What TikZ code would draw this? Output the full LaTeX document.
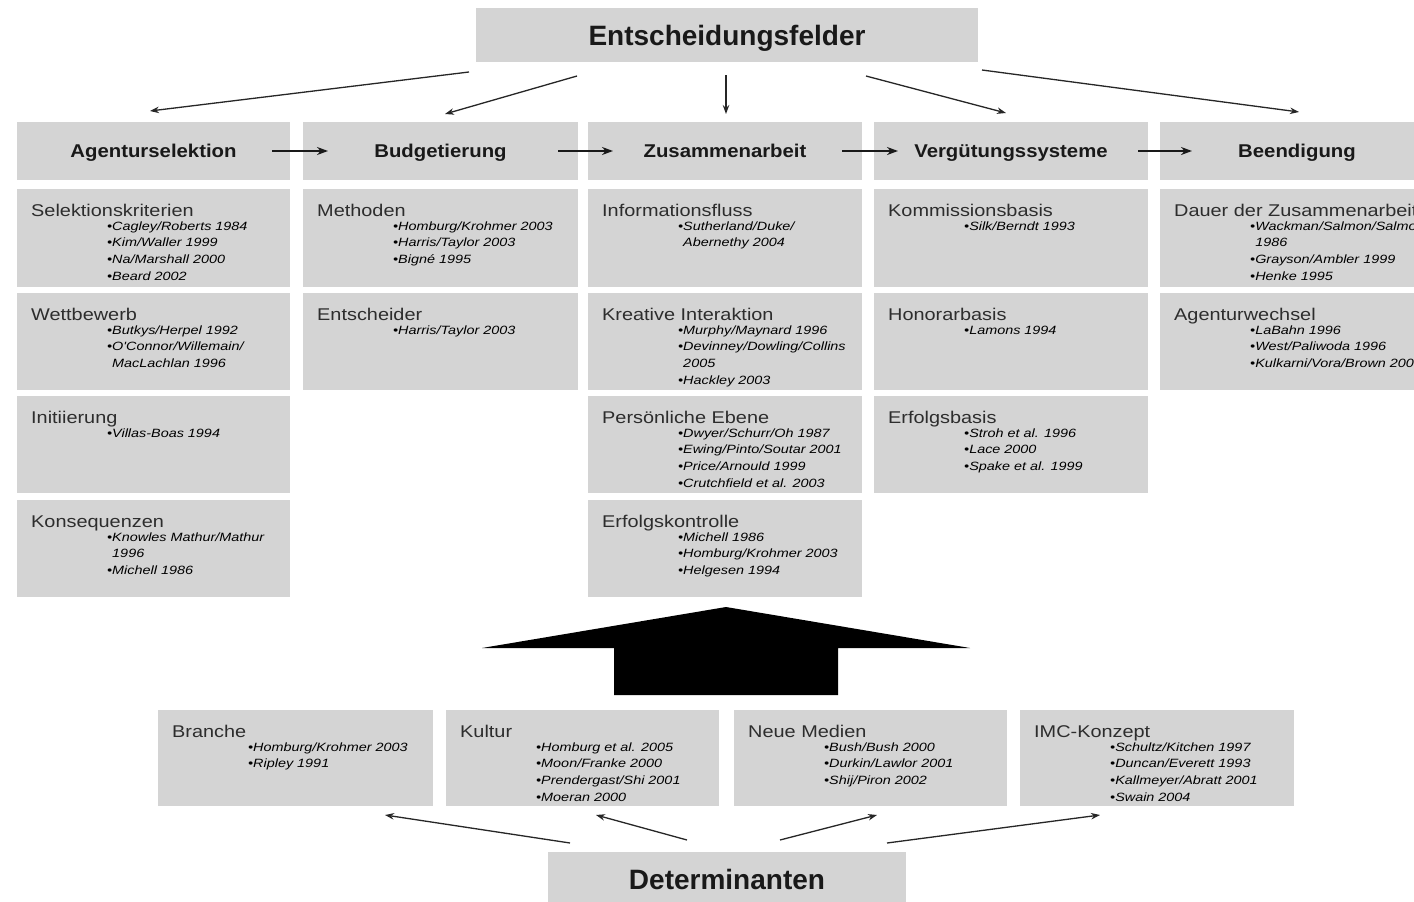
\documentclass[tikz,border=0pt]{standalone}
\usepackage{fontspec}
\setmainfont{Liberation Sans}
\newfontfamily\tfont[FakeStretch=1.17]{Liberation Sans}
\newfontfamily\cfont[FakeStretch=1.2]{Liberation Sans}
\newfontfamily\hfont[FakeStretch=1.1]{Liberation Sans}
\usetikzlibrary{arrows.meta,calc}
\definecolor{boxgray}{RGB}{212,212,212}
\definecolor{txtgray}{RGB}{45,45,45}
\newcommand\bl{•}
\newcommand\nb{\phantom{•}}
\tikzset{
 fbox/.style={fill=boxgray, draw=none, inner sep=0pt, outer sep=0pt, anchor=north west},
 hdr/.style={fbox, font=\hfont\bfseries\fontsize{18.5}{20}\selectfont, text=black!90, text height=13pt, text depth=0pt},
 big/.style={fbox, font=\bfseries\fontsize{28}{30}\selectfont, text=black!90, text height=20pt, text depth=0pt},
 ttl/.style={font=\tfont\fontsize{17}{19}\selectfont, text=txtgray, inner sep=0pt, anchor=base west},
 cit/.style={font=\cfont\itshape\fontsize{12}{14}\selectfont, text=black, inner sep=0pt, anchor=base west},
 tarr/.style={-{Stealth[length=9pt,width=6.5pt]}, line width=1.3pt, draw=black!85},
 harr/.style={-{Stealth[length=11pt,width=8pt]}, line width=2.2pt, draw=black!90},
}
\newcommand\fld[7]{%
 \node[fbox, minimum width=#4pt, minimum height=#5pt] (#1) at (#2,#3) {};
 \node[ttl] (#1-t) at ($(#1.north west)+(14,27)$) {#6};
 \foreach \ct [count=\i from 0] in {#7} {\node[cit] (#1-c\i) at ($(#1.north west)+(90,41+16.8*\i)$) {\ct};}
}
\begin{document}
\begin{tikzpicture}[x=1pt,y=-1pt]
\useasboundingbox (0,0) rectangle (1414,902);
\fill[white] (0,0) rectangle (1414,902);

% top
\node[big, minimum width=502pt, minimum height=54pt] (top) at (476,8) {Entscheidungsfelder};

% header row
\node[hdr, minimum width=273pt, minimum height=58pt] (h1) at (17,122) {Agenturselektion};
\node[hdr, minimum width=275pt, minimum height=58pt] (h2) at (303,122) {Budgetierung};
\node[hdr, minimum width=274pt, minimum height=58pt] (h3) at (588,122) {Zusammenarbeit};
\node[hdr, minimum width=274pt, minimum height=58pt] (h4) at (874,122) {Vergütungssysteme};
\node[hdr, minimum width=274pt, minimum height=58pt] (h5) at (1160,122) {Beendigung};

% arrows from top
\coordinate (s1) at (469,72);  \coordinate (e1) at (150,111);
\coordinate (s2) at (577,76);  \coordinate (e2) at (445,114);
\coordinate (s3) at (726,75);  \coordinate (e3) at (726,114);
\coordinate (s4) at (866,76);  \coordinate (e4) at (1006,113);
\coordinate (s5) at (982,70);  \coordinate (e5) at (1299,112);
\foreach \k in {1,...,5} {\draw[tarr] (s\k) -- (e\k);}

% arrows between headers
\coordinate (ha1) at ($(h1.east)+(-18,0)$); \coordinate (hb1) at ($(h2.west)+(25,0)$);
\coordinate (ha2) at ($(h2.east)+(-20,0)$); \coordinate (hb2) at ($(h3.west)+(25,0)$);
\coordinate (ha3) at ($(h3.east)+(-20,0)$); \coordinate (hb3) at ($(h4.west)+(24,0)$);
\coordinate (ha4) at ($(h4.east)+(-10,0)$); \coordinate (hb4) at ($(h5.west)+(32,0)$);
\foreach \k in {1,...,4} {\draw[harr] (ha\k) -- (hb\k);}

% column 1
\fld{a1}{17}{189}{273}{98}{Selektionskriterien}{\bl Cagley/Roberts 1984,\bl Kim/Waller 1999,\bl Na/Marshall 2000,\bl Beard 2002}
\fld{a2}{17}{293}{273}{97}{Wettbewerb}{\bl Butkys/Herpel 1992,\bl O'Connor/Willemain/,\nb MacLachlan 1996}
\fld{a3}{17}{396}{273}{97}{Initiierung}{\bl Villas-Boas 1994}
\fld{a4}{17}{500}{273}{97}{Konsequenzen}{\bl Knowles Mathur/Mathur,\nb 1996,\bl Michell 1986}

% column 2
\fld{b1}{303}{189}{275}{98}{Methoden}{\bl Homburg/Krohmer 2003,\bl Harris/Taylor 2003,\bl Bigné 1995}
\fld{b2}{303}{293}{275}{97}{Entscheider}{\bl Harris/Taylor 2003}

% column 3
\fld{c1}{588}{189}{274}{98}{Informationsfluss}{\bl Sutherland/Duke/,\nb Abernethy 2004}
\fld{c2}{588}{293}{274}{97}{Kreative Interaktion}{\bl Murphy/Maynard 1996,\bl Devinney/Dowling/Collins,\nb 2005,\bl Hackley 2003}
\fld{c3}{588}{396}{274}{97}{Persönliche Ebene}{\bl Dwyer/Schurr/Oh 1987,\bl Ewing/Pinto/Soutar 2001,\bl Price/Arnould 1999,\bl Crutchfield et al. 2003}
\fld{c4}{588}{500}{274}{97}{Erfolgskontrolle}{\bl Michell 1986,\bl Homburg/Krohmer 2003,\bl Helgesen 1994}

% column 4
\fld{d1}{874}{189}{274}{98}{Kommissionsbasis}{\bl Silk/Berndt 1993}
\fld{d2}{874}{293}{274}{97}{Honorarbasis}{\bl Lamons 1994}
\fld{d3}{874}{396}{274}{97}{Erfolgsbasis}{\bl Stroh et al. 1996,\bl Lace 2000,\bl Spake et al. 1999}

% column 5
\fld{e1b}{1160}{189}{274}{98}{Dauer der Zusammenarbeit}{\bl Wackman/Salmon/Salmon,\nb 1986,\bl Grayson/Ambler 1999,\bl Henke 1995}
\fld{e2b}{1160}{293}{274}{97}{Agenturwechsel}{\bl LaBahn 1996,\bl West/Paliwoda 1996,\bl Kulkarni/Vora/Brown 2003}

% big arrow
\fill[black] (482,648) -- (726,607) -- (970,648) -- (838,648) -- (838,695) -- (614,695) -- (614,648) -- cycle;

% bottom row
\fld{f1}{158}{710}{275}{96}{Branche}{\bl Homburg/Krohmer 2003,\bl Ripley 1991}
\fld{f2}{446}{710}{273}{96}{Kultur}{\bl Homburg et al. 2005,\bl Moon/Franke 2000,\bl Prendergast/Shi 2001,\bl Moeran 2000}
\fld{f3}{734}{710}{273}{96}{Neue Medien}{\bl Bush/Bush 2000,\bl Durkin/Lawlor 2001,\bl Shij/Piron 2002}
\fld{f4}{1020}{710}{274}{96}{IMC-Konzept}{\bl Schultz/Kitchen 1997,\bl Duncan/Everett 1993,\bl Kallmeyer/Abratt 2001,\bl Swain 2004}

\node[big, minimum width=358pt, minimum height=54pt] (det) at (548,852) {Determinanten};

% arrows from Determinanten
\coordinate (ds1) at (570,843); \coordinate (de1) at (385,815);
\coordinate (ds2) at (687,840); \coordinate (de2) at (596,815);
\coordinate (ds3) at (780,840); \coordinate (de3) at (877,815);
\coordinate (ds4) at (887,843); \coordinate (de4) at (1100,815);
\foreach \k in {1,...,4} {\draw[tarr] (ds\k) -- (de\k);}
\end{tikzpicture}
\end{document}
